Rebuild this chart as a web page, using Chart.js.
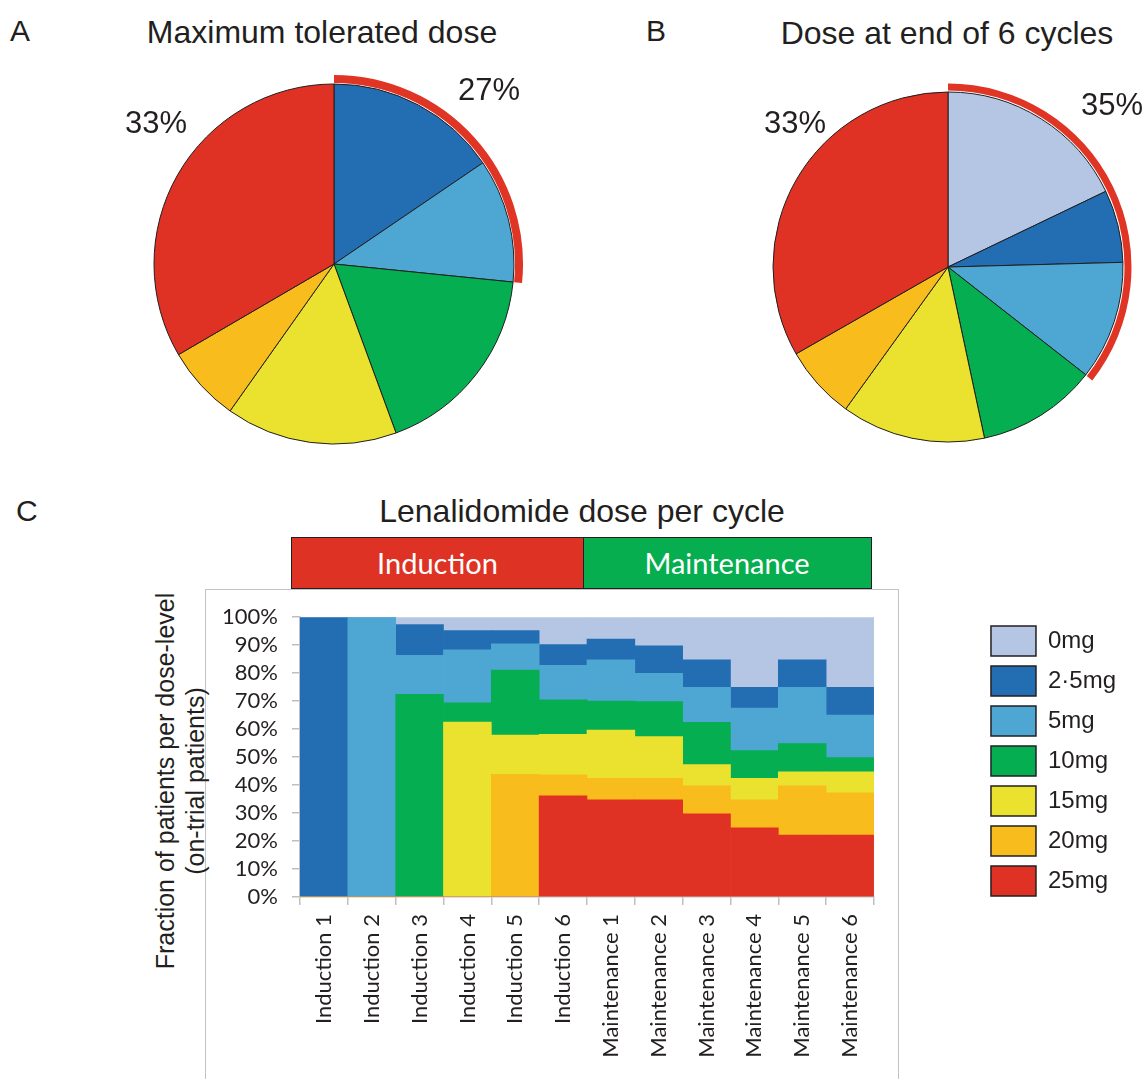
<!DOCTYPE html>
<html>
<head>
<meta charset="utf-8">
<script src="https://cdn.jsdelivr.net/npm/chart.js@4.4.1/dist/chart.umd.min.js"></script>
<style>
  body { margin: 0; background: #fff; }
  #page { position: relative; width: 1145px; height: 1079px; overflow: hidden; background: #fff;
          font-family: 'Liberation Sans', Arial, sans-serif; color: #231f20; }
  .txt { position: absolute; white-space: nowrap; }
  .big { font-size: 32px; line-height: 32px; }
  .letter { font-size: 30px; line-height: 30px; }
  .pct { font-size: 31px; line-height: 31px; width: 100px; text-align: center; }
  canvas { position: absolute; }
  .phase { position: absolute; top: 537px; height: 52px; box-sizing: border-box; border: 1.5px solid #231f20;
           color: #fff; font-family: Lato, sans-serif; font-size: 29px; line-height: 49px; text-align: center; }
  #frame { position: absolute; left: 205px; top: 589px; width: 694px; height: 520px;
           border: 1.5px solid #c3c3c3; box-sizing: border-box; }
  #ytitle { position: absolute; left: -30px; top: 751px; width: 420px; height: 60px; font-size: 25px;
            line-height: 30px; text-align: center; transform: rotate(-90deg); white-space: nowrap; }
</style>
</head>
<body>
<div id="page">
  <div class="txt letter" style="left:10px; top:16px;">A</div>
  <div class="txt big" style="left:72px; top:16px; width:500px; text-align:center;">Maximum tolerated dose</div>
  <div class="txt letter" style="left:646px; top:16px;">B</div>
  <div class="txt big" style="left:697px; top:17px; width:500px; text-align:center;">Dose at end of 6 cycles</div>

  <canvas id="pieA" width="380" height="380" style="left:144px; top:74px;"></canvas>
  <canvas id="pieB" width="370" height="370" style="left:763px; top:82px;"></canvas>

  <div class="txt pct" style="left:439px; top:74px;">27%</div>
  <div class="txt pct" style="left:106px; top:107px;">33%</div>
  <div class="txt pct" style="left:1062px; top:89px;">35%</div>
  <div class="txt pct" style="left:745px; top:107px;">33%</div>

  <div class="txt letter" style="left:16px; top:496px;">C</div>
  <div class="txt big" style="left:332px; top:495px; width:500px; text-align:center;">Lenalidomide dose per cycle</div>
  <div class="phase" style="left:291px; width:293px; background:#de3224;">Induction</div>
  <div class="phase" style="left:582.5px; width:289px; background:#06ae50;">Maintenance</div>

  <div id="frame"></div>
  <div id="ytitle">Fraction of patients per dose-level<br>(on-trial patients)</div>
  <canvas id="cycleChart" width="1005" height="489" style="left:140px; top:590px;"></canvas>
</div>

<script>
// Dose levels and their colours (same order in every panel)
const doseLabels = ['0mg', '2·5mg', '5mg', '10mg', '15mg', '20mg', '25mg'];
const doseColors = ['#b4c6e4', '#236db2', '#4ea6d3', '#05ae50', '#ebe22f', '#f8bc1d', '#df3224'];

// A: maximum tolerated dose, % of patients
const mtdShares = [0, 15.5, 11.1, 17.8, 15.4, 6.8, 33.4];
// B: dose at end of 6 cycles, % of patients
const endShares = [17.9, 6.7, 11.0, 11.1, 13.3, 6.8, 33.3];

// C: fraction of on-trial patients per dose level, per cycle (%)
const cycleLabels = ['Induction 1', 'Induction 2', 'Induction 3', 'Induction 4', 'Induction 5', 'Induction 6',
    'Maintenance 1', 'Maintenance 2', 'Maintenance 3', 'Maintenance 4', 'Maintenance 5', 'Maintenance 6'];
const dose0   = [0, 0, 2.6, 4.8, 4.8, 9.8, 7.8, 10.2, 15.2, 25.1, 15.2, 25.1];
const dose2_5 = [100, 0, 11.0, 6.9, 4.7, 7.4, 7.4, 9.9, 9.9, 7.4, 9.9, 9.9];
const dose5   = [0, 100, 14.0, 18.9, 9.4, 12.3, 14.8, 10.1, 12.5, 15.2, 20.1, 15.2];
const dose10  = [0, 0, 72.4, 6.9, 23.2, 12.4, 10.3, 12.5, 15.1, 9.9, 10.1, 5.1];
const dose15  = [0, 0, 0, 62.5, 14.1, 14.4, 17.3, 14.9, 7.6, 7.7, 5.0, 7.5];
const dose20  = [0, 0, 0, 0, 43.8, 7.5, 7.7, 7.7, 10.0, 10.0, 17.6, 15.1];
const dose25  = [0, 0, 0, 0, 0, 36.2, 34.7, 34.7, 29.7, 24.7, 22.1, 22.1];

const darkText = '#231f20';
const axisGrey = '#bfbfbf';

// Pie with a thin red ring over the low-dose (0-5mg) slices
function drawPie(id, shares, pieR, gapW, ringW) {
    const lowDose = shares[0] + shares[1] + shares[2];
    new Chart(document.getElementById(id), {
        type: 'pie',
        data: {
            labels: doseLabels,
            datasets: [
                { data: [lowDose, 100 - lowDose], backgroundColor: ['#e03424', 'rgba(0,0,0,0)'], borderWidth: 0, weight: ringW },
                { data: [100], backgroundColor: 'rgba(0,0,0,0)', borderWidth: 0, weight: gapW },
                { data: shares, backgroundColor: doseColors, borderColor: '#1e1e1e', borderWidth: 1, weight: pieR }
            ]
        },
        options: {
            responsive: false,
            animation: false,
            events: [],
            radius: pieR + gapW + ringW,
            plugins: { legend: { display: false }, tooltip: { enabled: false } }
        }
    });
}

drawPie('pieA', mtdShares, 180, 1, 8);
drawPie('pieB', endShares, 175, 1.5, 7);

// Stacked bars: 25mg at the bottom, 0mg on top
const seriesByDose = [dose0, dose2_5, dose5, dose10, dose15, dose20, dose25];
const cycleDatasets = seriesByDose.map((d, i) => ({
    label: doseLabels[i],
    data: d,
    backgroundColor: doseColors[i],
    borderWidth: 0,
    barPercentage: 1,
    categoryPercentage: 1,
    yAxisID: 'y'
})).reverse();

const tickFont = { family: 'Lato', size: 22 };

new Chart(document.getElementById('cycleChart'), {
    type: 'bar',
    data: { labels: cycleLabels, datasets: cycleDatasets },
    options: {
        responsive: false,
        animation: false,
        events: [],
        layout: { padding: { top: 26, right: 19, bottom: 0, left: 0 } },
        scales: {
            x: {
                stacked: true,
                grid: { drawOnChartArea: false, color: axisGrey, lineWidth: 1.5, tickLength: 8 },
                border: { color: axisGrey, width: 1.5 },
                ticks: { autoSkip: false, minRotation: 90, maxRotation: 90, padding: 9, color: darkText, font: tickFont },
                afterFit: s => { s.height = 182; }
            },
            y: {
                stacked: true,
                min: 0,
                max: 100,
                grid: { drawOnChartArea: false, color: axisGrey, lineWidth: 1.5, tickLength: 8 },
                border: { color: axisGrey, width: 1.5 },
                ticks: { autoSkip: false, stepSize: 10, padding: 14, color: darkText, font: tickFont, callback: v => v + '%' },
                afterFit: s => { s.width = 160; }
            },
            // empty axis that only keeps the legend away from the bars
            gap: {
                type: 'linear',
                position: 'right',
                grid: { display: false },
                border: { display: false },
                ticks: { display: false },
                afterFit: s => { s.width = 107; }
            }
        },
        plugins: {
            tooltip: { enabled: false },
            legend: {
                position: 'right',
                align: 'start',
                reverse: true,
                labels: {
                    boxWidth: 45,
                    boxHeight: 30,
                    padding: 10,
                    color: darkText,
                    font: { family: 'Liberation Sans', size: 24 },
                    generateLabels(chart) {
                        const items = Chart.defaults.plugins.legend.labels.generateLabels(chart);
                        items.forEach(it => { it.strokeStyle = darkText; it.lineWidth = 1.5; });
                        return items;
                    }
                }
            }
        }
    }
});
</script>
</body>
</html>
